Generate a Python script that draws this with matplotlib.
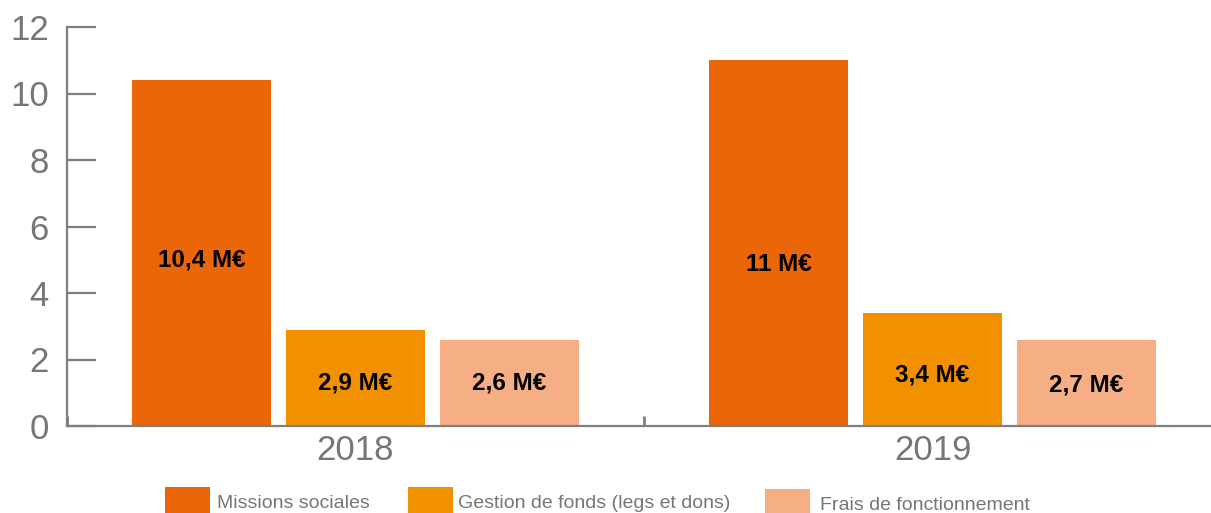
import matplotlib
matplotlib.use("Agg")
import matplotlib.pyplot as plt
from matplotlib.patches import Rectangle
import numpy as np

plt.rcParams['font.family'] = ['Liberation Sans', 'DejaVu Sans']

# ---- data ----
years = ["2018", "2019"]
series_names = ["Missions sociales", "Gestion de fonds (legs et dons)", "Frais de fonctionnement"]
missions = [10.4, 11.0]
gestion = [2.9, 3.4]
frais = [2.6, 2.6]
labels_missions = ["10,4 M€", "11 M€"]
labels_gestion = ["2,9 M€", "3,4 M€"]
labels_frais = ["2,6 M€", "2,7 M€"]
y_ticks = [0, 2, 4, 6, 8, 10, 12]

# ---- style ----
colors = ["#EB6608", "#F29100", "#F6AE84"]
gray = "#7F7F7F"
label_gray = "#767676"

W, H = 1211, 513
fig = plt.figure(figsize=(W / 100, H / 100), dpi=100)
ax = fig.add_axes([67 / W, 87 / H, 1144 / W, 399 / H])

x = np.arange(len(years))
offsets = [-0.267, 0.0, 0.267]
width = 0.241
all_vals = [missions, gestion, frais]
all_labels = [labels_missions, labels_gestion, labels_frais]
# label vertical positions (layout, in data units)
label_y = [[4.98, 4.86], [1.29, 1.53], [1.29, 1.23]]

for i, (vals, labs) in enumerate(zip(all_vals, all_labels)):
    ax.bar(x + offsets[i], vals, width=width, color=colors[i], zorder=2,
           label=series_names[i])
    for j, (xx, lab) in enumerate(zip(x + offsets[i], labs)):
        ax.text(xx, label_y[i][j], lab, ha='center', va='center',
                fontsize=17.5, fontweight='bold', color='black', zorder=3)

ax.set_ylim(0, 12)
ax.set_xlim(-0.5, 1.5 - 10 / 577)
ax.set_yticks(y_ticks)
ax.set_yticklabels([str(t) for t in y_ticks])
ax.set_xticks(x)
ax.set_xticklabels(years)
ax.set_xticks([-0.5, 0.5], minor=True)

for s in ['top', 'right']:
    ax.spines[s].set_visible(False)
for s in ['left', 'bottom']:
    ax.spines[s].set_color(gray)
    ax.spines[s].set_linewidth(1.6)

ax.tick_params(axis='y', direction='in', length=21, width=1.6, color=gray,
               labelsize=25, labelcolor=label_gray, pad=13)
ax.tick_params(axis='x', which='major', length=0, labelsize=25,
               labelcolor=label_gray, pad=6)
ax.tick_params(axis='x', which='minor', direction='in', length=7.5, width=2, color=gray)

# ---- legend (drawn manually at the bottom edge) ----
leg_sq_x = [165, 408, 765]
leg_sq_top = [487, 487, 489]
leg_txt_x = [217, 458, 820]
leg_txt_base = [508, 508, 510]
for i, name in enumerate(series_names):
    fig.patches.append(Rectangle((leg_sq_x[i] / W, 0), 45 / W, (H - leg_sq_top[i]) / H,
                                 transform=fig.transFigure, facecolor=colors[i],
                                 edgecolor='none'))
    fig.text(leg_txt_x[i] / W, (H - leg_txt_base[i]) / H, name,
             ha='left', va='baseline', fontsize=14, color=label_gray)

fig.savefig("out.png", dpi=100)
